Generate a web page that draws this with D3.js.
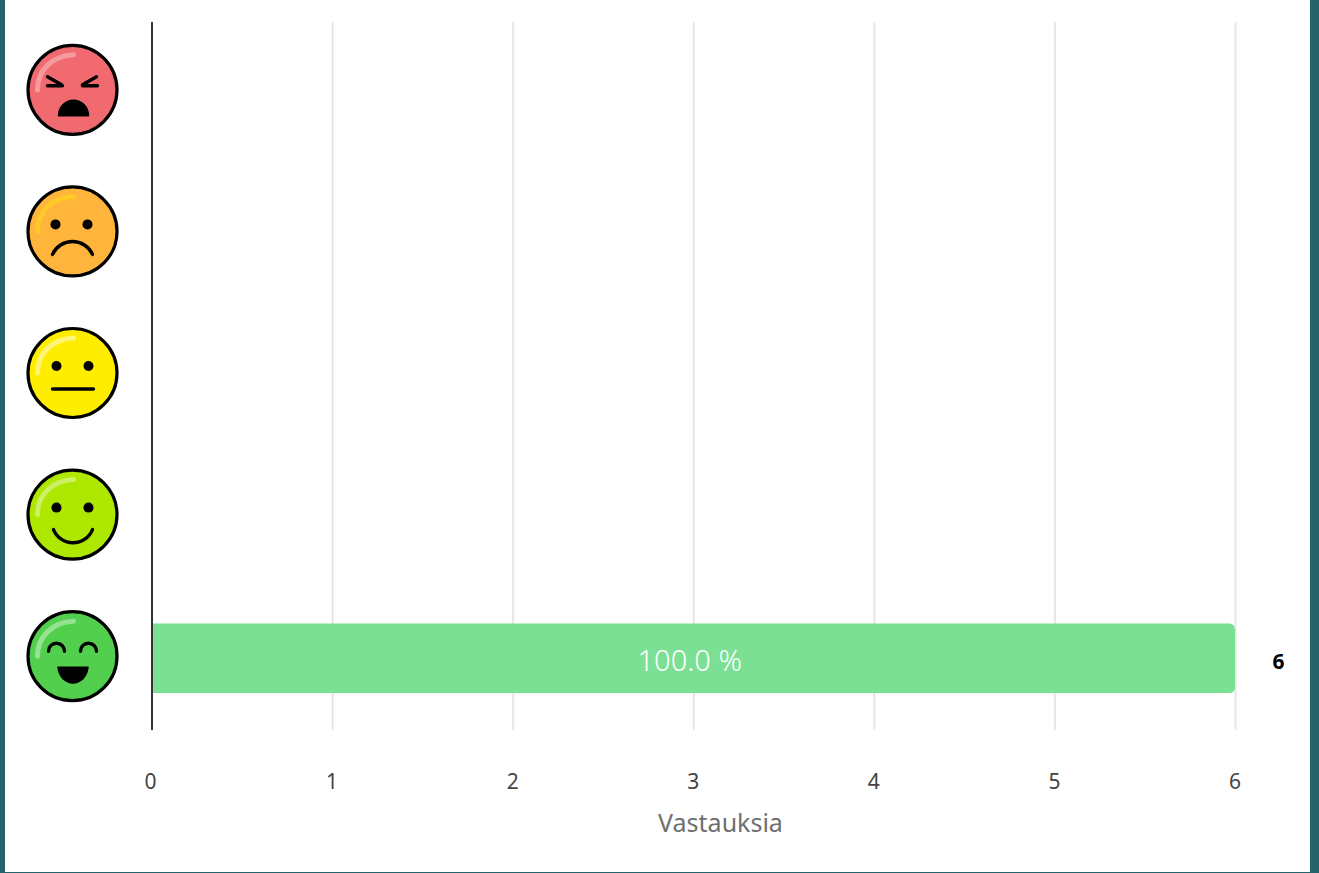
<!DOCTYPE html>
<html>
<head>
<meta charset="utf-8">
<script src="https://cdn.jsdelivr.net/npm/d3@7"></script>
<style>
  html, body { margin: 0; padding: 0; background: #26636b; overflow: hidden; }
  svg { display: block; position: absolute; left: 0; top: 0; }
  text { font-family: "Noto Sans", sans-serif; }
</style>
</head>
<body>
<svg width="1319" height="873"></svg>
<script>
const categories = ['angry', 'sad', 'neutral', 'happy', 'joy'];
const counts = [0, 0, 0, 0, 6];
const percents = [null, null, null, null, '100.0 %'];
const xTicks = [0, 1, 2, 3, 4, 5, 6];
const faceColors = ['#f16a70', '#ffb43c', '#ffed00', '#aee800', '#52cf4d'];
const glossColors = ['#f59a9e', '#ffc926', '#fff475', '#cdef66', '#95e292'];
const xLabel = 'Vastauksia';

const data = categories.map((c, i) => ({ c, n: counts[i], pct: percents[i], fill: faceColors[i], gloss: glossColors[i] }));

const svg = d3.select('svg');
svg.append('rect').attr('x', 5).attr('y', 0).attr('width', 1305).attr('height', 872).attr('fill', '#fff');

// ---- Scales
const mapX = d3.scaleLinear().domain([0, 6]).range([152, 1235.5]);
const mapY = d3.scaleBand().domain(categories).range([21, 729]).paddingInner(0.51).paddingOuter(0.255);

// ---- Grid
svg.append('g').selectAll('line').data(xTicks.slice(1)).join('line')
  .attr('x1', d => mapX(d)).attr('x2', d => mapX(d))
  .attr('y1', 22).attr('y2', 730)
  .attr('stroke', '#e6e6e6').attr('stroke-width', 2);

// ---- Bars
const barPath = d => {
  const x0 = mapX(0), x1 = mapX(d.n) - 0.5, y0 = mapY(d.c), h = mapY.bandwidth(), r = 6;
  return `M${x0},${y0}H${x1 - r}Q${x1},${y0} ${x1},${y0 + r}V${y0 + h - r}Q${x1},${y0 + h} ${x1 - r},${y0 + h}H${x0}Z`;
};
const shown = data.filter(d => d.n > 0);
svg.append('g').selectAll('path').data(shown).join('path')
  .attr('d', barPath).attr('fill', '#7bdf94');

svg.append('g').selectAll('text').data(shown).join('text')
  .attr('x', d => (mapX(0) + mapX(d.n)) / 2 - 4)
  .attr('y', d => mapY(d.c) + mapY.bandwidth() / 2 + 13)
  .attr('text-anchor', 'middle').attr('fill', '#fff')
  .attr('font-size', 29).attr('font-weight', 300)
  .text(d => d.pct);

svg.append('g').selectAll('text').data(shown).join('text')
  .attr('x', d => mapX(d.n) + 43)
  .attr('y', d => mapY(d.c) + mapY.bandwidth() / 2 + 11)
  .attr('text-anchor', 'middle').attr('fill', '#000')
  .attr('font-size', 21).attr('font-weight', 700)
  .text(d => d.n);

// ---- Zero line
svg.append('line').attr('x1', 152).attr('x2', 152).attr('y1', 22).attr('y2', 730)
  .attr('stroke', '#333').attr('stroke-width', 2);

// ---- Axis
const xAxis = d3.axisBottom(mapX).tickValues(xTicks).tickSize(0).tickFormat(d3.format('d'));
const gx = svg.append('g').attr('transform', 'translate(0,730)').call(xAxis);
gx.select('.domain').remove();
gx.selectAll('text').attr('y', 59).attr('dy', 0).attr('x', -1)
  .attr('font-size', 21).attr('font-family', '"Noto Sans", sans-serif').attr('fill', '#444');
gx.select('.tick text').attr('x', -2);

svg.append('text').attr('x', 720.5).attr('y', 832).attr('text-anchor', 'middle')
  .attr('font-size', 25).attr('fill', '#6f6f6f').text(xLabel);

// ---- Faces
const eyes = g => [-16, 16].forEach(dx => g.append('circle').attr('cx', dx).attr('cy', -7).attr('r', 5).attr('fill', '#000'));
const line = (g, d, w = 3.4) => g.append('path').attr('d', d).attr('fill', 'none')
  .attr('stroke', '#000').attr('stroke-width', w).attr('stroke-linecap', 'round');
const solid = (g, d) => g.append('path').attr('d', d).attr('fill', '#000').attr('stroke', '#000')
  .attr('stroke-width', 1.5).attr('stroke-linejoin', 'round');

const features = {
  angry: g => {
    line(g, 'M-25,-13L-11,-5M-25,-4H-10');
    line(g, 'M24,-13L10,-5M25,-4H10');
    solid(g, 'M-14,26A15,15.5 0 0 1 16,26Z');
  },
  sad: g => {
    g.append('circle').attr('cx', -17).attr('cy', -7).attr('r', 5).attr('fill', '#000');
    g.append('circle').attr('cx', 15).attr('cy', -7).attr('r', 5).attr('fill', '#000');
    line(g, 'M-20,23A22,22 0 0 1 20,23');
  },
  neutral: g => {
    eyes(g);
    line(g, 'M-20,16H21');
  },
  happy: g => {
    eyes(g);
    line(g, 'M-19,15A21,21 0 0 0 20,15');
  },
  joy: g => {
    line(g, 'M-24,-5A8,8 0 0 1 -8,-5');
    line(g, 'M8,-5A8,8 0 0 1 24,-5');
    solid(g, 'M-14.5,11H15.5C13,32 -12,32 -14.5,11Z');
  }
};

const faces = svg.append('g').selectAll('g').data(data).join('g')
  .attr('transform', d => `translate(72.5,${mapY(d.c) + mapY.bandwidth() / 2 - 2})`);

faces.append('circle').attr('r', 44.5).attr('fill', d => d.fill).attr('stroke', '#000').attr('stroke-width', 3.2);
faces.append('path').attr('d', 'M-35,0C-35,-20 -20,-34 1,-35').attr('fill', 'none')
  .attr('stroke', d => d.gloss).attr('stroke-width', 5).attr('stroke-linecap', 'round');
faces.each(function (d) { features[d.c](d3.select(this)); });
</script>
</body>
</html>
